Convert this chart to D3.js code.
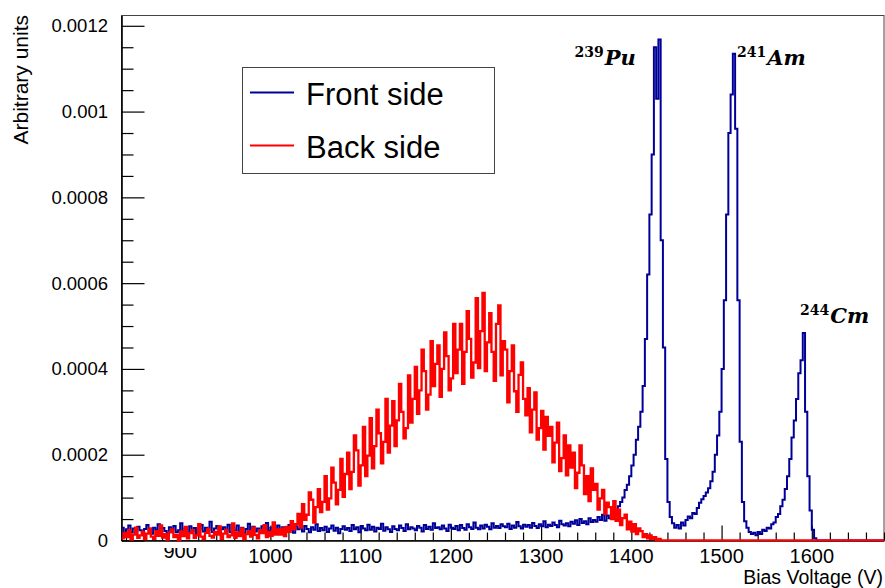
<!DOCTYPE html>
<html>
<head>
<meta charset="utf-8">
<script src="https://cdn.jsdelivr.net/npm/d3@7"></script>
<style>
  html, body { margin: 0; padding: 0; background: #fff; }
  svg { display: block; }
</style>
</head>
<body>
<svg id="chart" width="885" height="588"></svg>
<script>
// ---------------- DATA (values in units of 1e-6) ----------------
const binStart = 835;      // V, left edge of first bin
const binWidth = 2.5;      // V per bin

// Front side histogram (one line = 25 V, 10 bins)
const frontSide = [
  30, 18, 26, 35, 20, 28, 15, 32, 24, 19,   // 835
  27, 36, 21, 16, 30, 25, 38, 20, 29, 22,   // 860
  17, 31, 26, 34, 19, 24, 40, 22, 28, 18,   // 885
  33, 23, 29, 15, 27, 36, 21, 30, 25, 44,   // 910
  20, 28, 34, 18, 26, 31, 22, 37, 19, 29,   // 935
  24, 35, 20, 30, 17, 27, 39, 23, 32, 21,   // 960
  28, 19, 33, 25, 41, 22, 30, 18, 27, 35,   // 985
  23, 31, 20, 29, 36, 24, 18, 33, 26, 30,   // 1010
  21, 34, 27, 19, 31, 25, 38, 22, 29, 24,   // 1035
  32, 20, 28, 35, 23, 30, 17, 27, 33, 25,   // 1060
  29, 22, 36, 26, 31, 19, 34, 28, 24, 37,   // 1085
  25, 32, 21, 30, 27, 39, 23, 31, 26, 20,   // 1110
  33, 27, 24, 35, 29, 22, 38, 26, 31, 28,   // 1135
  24, 34, 30, 21, 36, 27, 32, 25, 40, 29,   // 1160
  31, 26, 35, 28, 22, 37, 30, 27, 34, 24,   // 1185
  36, 29, 25, 38, 31, 27, 42, 30, 26, 35,   // 1210
  28, 37, 32, 26, 40, 30, 34, 29, 38, 33,   // 1235
  31, 39, 27, 35, 30, 43, 33, 28, 37, 32,   // 1260
  36, 30, 41, 34, 29, 38, 33, 45, 31, 37,   // 1285
  34, 42, 36, 31, 46, 38, 35, 40, 33, 44,   // 1310
  39, 47, 36, 50, 41, 45, 38, 52, 43, 48,   // 1335
  44, 55, 48, 60, 46, 58, 52, 65, 57, 70,   // 1360
  80, 90, 100, 118, 130, 150, 175, 200, 235, 265,   // 1385
  300, 360, 470, 620, 760, 900, 1150, 1030, 1168, 700,   // 1410
  450, 190, 90, 55, 40, 30, 36, 28, 42, 35,   // 1435
  48, 56, 52, 64, 62, 76, 88, 96, 104, 112,   // 1460
  122, 138, 160, 200, 245, 300, 400, 560, 760, 950,   // 1485
  1040, 1135, 960, 560, 230, 90, 45, 30, 20, 15,   // 1510
  18, 12, 20, 15, 25, 22, 30, 28, 38, 42,   // 1535
  55, 62, 80, 95, 120, 150, 190, 240, 280, 330,   // 1560
  390, 420, 484, 300, 150, 70, 25, 5, 0, 0,   // 1585
  0, 0, 0, 0, 0, 0, 0, 0, 0, 0,   // 1610
  0, 0, 0, 0, 0, 0, 0, 0, 0, 0,   // 1635
  0, 0, 0, 0, 0, 0, 0, 0          // 1660
];

// Back side histogram
const backSide = [
  5, 18, 8, 25, 2, 14, 30, 6, 12, 20,   // 835
  3, 16, 28, 9, 4, 22, 11, 35, 7, 15,   // 860
  2, 19, 26, 8, 13, 0, 21, 10, 32, 5,   // 885
  17, 24, 6, 12, 38, 9, 3, 18, 27, 11,   // 910
  7, 20, 14, 33, 4, 16, 25, 8, 12, 40,   // 935
  6, 19, 10, 28, 3, 15, 22, 9, 30, 13,   // 960
  5, 24, 17, 36, 8, 20, 11, 42, 14, 26,   // 985
  14, 28, 10, 32, 20, 45, 26, 38, 62, 30,   // 1010
  85, 48, 60, 112, 95, 42, 78, 120, 66, 90,   // 1035
  150, 72, 98, 170, 135, 84, 118, 190, 102, 155,   // 1060
  205, 120, 160, 245, 210, 128, 175, 265, 150, 198,   // 1085
  285, 168, 220, 305, 250, 180, 230, 330, 205, 268,   // 1110
  325, 220, 280, 365, 300, 238, 262, 385, 275, 330,   // 1135
  405, 295, 350, 445, 395, 305, 340, 465, 360, 412,   // 1160
  455, 335, 400, 485, 430, 350, 378, 505, 390, 445,   // 1185
  505, 365, 440, 535, 470, 380, 415, 565, 402, 488,   // 1210
  577, 395, 462, 530, 440, 372, 505, 548, 385, 465,   // 1235
  445, 322, 395, 455, 348, 300, 386, 415, 330, 292,   // 1260
  355, 252, 305, 345, 235, 262, 302, 212, 288, 244,   // 1285
  265, 182, 228, 275, 162, 192, 245, 152, 222, 170,   // 1310
  205, 122, 158, 222, 175, 108, 150, 92, 168, 118,   // 1335
  132, 72, 98, 118, 62, 88, 78, 50, 92, 46,   // 1360
  72, 36, 52, 60, 26, 44, 21, 38, 15, 28,   // 1385
  22, 8, 15, 5, 12, 3, 8, 0, 4, 0,   // 1410
  0, 0, 0, 0, 0, 0, 0, 0, 0, 0,   // 1435
  0, 0, 0, 0, 0, 0, 0, 0, 0, 0,   // 1460
  0, 0, 0, 0, 0, 0, 0, 0, 0, 0,   // 1485
  0, 0, 0, 0, 0, 0, 0, 0, 0, 0,   // 1510
  0, 0, 0, 0, 0, 0, 0, 0, 0, 0,   // 1535
  0, 0, 0, 0, 0, 0, 0, 0, 0, 0,   // 1560
  0, 0, 0, 0, 0, 0, 0, 0, 0, 0,   // 1585
  0, 0, 0, 0, 0, 0, 0, 0, 0, 0,   // 1610
  0, 0, 0, 0, 0, 0, 0, 0, 0, 0,   // 1635
  0, 0, 0, 0, 0, 0, 0, 0          // 1660
];

const xDomain = [835, 1680];
const yDomain = [0, 1224];
const xTickValues = [900, 1000, 1100, 1200, 1300, 1400, 1500, 1600];
const xTickLabels = ["900", "1000", "1100", "1200", "1300", "1400", "1500", "1600"];
const yTickValues = [0, 200, 400, 600, 800, 1000, 1200];
const yTickLabels = ["0", "0.0002", "0.0004", "0.0006", "0.0008", "0.001", "0.0012"];
const seriesNames = ["Front side", "Back side"];
const seriesColors = ["#000099", "#ff0000"];
const peakIsotopes = ["239", "241", "244"];
const peakElements = ["Pu", "Am", "Cm"];
const peakLabelV = [1337, 1517, 1587];
const peakLabelY = [1108, 1108, 507];

// ---------------- LAYOUT ----------------
const L = 121.5, R = 884, T = 15.5, B = 540.5;
const svg = d3.select("#chart");
const x = d3.scaleLinear().domain(xDomain).range([L, R]);
const y = d3.scaleLinear().domain(yDomain).range([B, T]);

svg.append("defs").append("clipPath").attr("id", "plotClip")
  .append("rect").attr("x", L).attr("y", T - 2).attr("width", R - L).attr("height", B - T + 3);
svg.select("defs").append("clipPath").attr("id", "clip900")
  .append("rect").attr("x", 0).attr("y", 548).attr("width", 885).attr("height", 40);

// frame
svg.append("rect").attr("x", L).attr("y", T).attr("width", R - L).attr("height", B - T)
  .attr("fill", "#fff").attr("stroke", "#444").attr("stroke-width", 1);

// axes
const xAxis = d3.axisBottom(x).tickValues(xTickValues).tickFormat("").tickSizeInner(-15).tickSizeOuter(0);
const gx = svg.append("g").attr("transform", `translate(0,${B})`).call(xAxis);
const xMinor = d3.range(840, 1681, 20).filter(v => v % 100 !== 0);
const gxm = svg.append("g").attr("transform", `translate(0,${B})`)
  .call(d3.axisBottom(x).tickValues(xMinor).tickFormat("").tickSizeInner(-8).tickSizeOuter(0));
gxm.select(".domain").remove();
const yAxis = d3.axisLeft(y).tickValues(yTickValues).tickFormat("").tickSizeInner(-23).tickSizeOuter(0);
const gy = svg.append("g").attr("transform", `translate(${L},0)`).call(yAxis);
const yMinor = d3.range(0, 1201, 50).filter(v => v % 200 !== 0);
const gym = svg.append("g").attr("transform", `translate(${L},0)`)
  .call(d3.axisLeft(y).tickValues(yMinor).tickFormat("").tickSizeInner(-12).tickSizeOuter(0));
gym.select(".domain").remove();
svg.selectAll(".tick line").attr("stroke", "#000").attr("stroke-width", 1.2);
gx.select(".domain").attr("stroke", "#000").attr("stroke-width", 1.6);
gy.select(".domain").attr("stroke", "#000").attr("stroke-width", 1.6);

// histograms (drawn over the axis line, as in the reference)
function histPoints(vals) {
  const pts = vals.map((v, i) => [binStart + i * binWidth, v]);
  pts.push([binStart + vals.length * binWidth, vals[vals.length - 1]]);
  return pts;
}
const line = d3.line().x(d => x(d[0])).y(d => y(d[1])).curve(d3.curveStepAfter);
const plot = svg.append("g").attr("clip-path", "url(#plotClip)");
[frontSide, backSide].forEach((vals, k) => {
  plot.append("path").attr("d", line(histPoints(vals)))
    .attr("fill", "none").attr("stroke", seriesColors[k])
    .attr("stroke-width", k === 1 ? 2.3 : 2).attr("stroke-linejoin", "miter");
});

// tick labels
const fontSans = "'Liberation Sans', Arial, Helvetica, sans-serif";
xTickValues.forEach((v, i) => {
  const t = svg.append("text").attr("x", x(v)).attr("y", v === 900 ? 558 : 563)
    .attr("text-anchor", "middle").attr("font-family", fontSans).attr("font-size", 20)
    .attr("fill", "#000").text(xTickLabels[i]);
  if (v === 900) t.attr("clip-path", "url(#clip900)");
});
yTickValues.forEach((v, i) => {
  svg.append("text").attr("x", 108).attr("y", y(v)).attr("dy", "0.35em")
    .attr("text-anchor", "end").attr("font-family", fontSans).attr("font-size", 18.5)
    .attr("fill", "#000").text(yTickLabels[i]);
});

// axis titles
svg.append("text").attr("x", 883).attr("y", 584).attr("text-anchor", "end")
  .attr("font-family", fontSans).attr("font-size", 19.5).text("Bias Voltage (V)");
svg.append("text").attr("transform", "translate(28,15) rotate(-90)").attr("text-anchor", "end")
  .attr("font-family", fontSans).attr("font-size", 21).text("Arbitrary units");

// legend
const lg = svg.append("g");
lg.append("rect").attr("x", 242.5).attr("y", 67.5).attr("width", 252).attr("height", 106)
  .attr("fill", "#fff").attr("stroke", "#444").attr("stroke-width", 1);
[92.5, 145.5].forEach((ly, k) => {
  lg.append("line").attr("x1", 250).attr("x2", 294).attr("y1", ly).attr("y2", ly)
    .attr("stroke", seriesColors[k]).attr("stroke-width", 2);
  lg.append("text").attr("x", 306).attr("y", ly + 12).attr("font-family", fontSans)
    .attr("font-size", 31).attr("fill", "#000").text(seriesNames[k]);
});

// peak labels
const fontSerif = "'DejaVu Serif', 'Liberation Serif', serif";
peakElements.forEach((el, k) => {
  const t = svg.append("text").attr("x", x(peakLabelV[k])).attr("y", y(peakLabelY[k]))
    .attr("font-family", fontSerif).attr("font-weight", "bold").attr("fill", "#000");
  t.append("tspan").attr("font-size", 14).attr("dy", -8).text(peakIsotopes[k]);
  t.append("tspan").attr("font-size", 21).attr("font-style", "italic").attr("dy", 8).attr("dx", 1).text(el);
});
</script>
</body>
</html>
